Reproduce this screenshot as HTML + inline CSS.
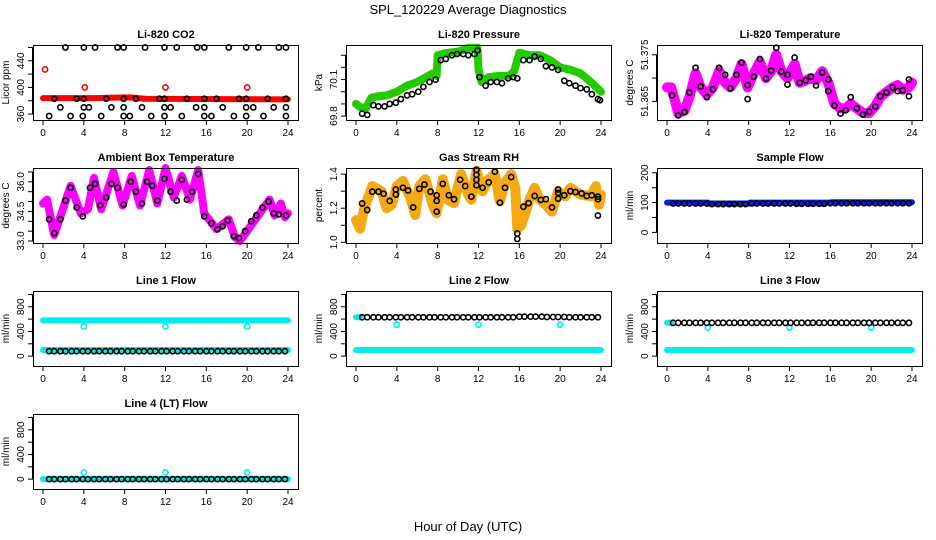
<!DOCTYPE html>
<html><head><meta charset="utf-8"><style>
html,body{margin:0;padding:0;background:#fff}
svg{display:block;font-family:"Liberation Sans",sans-serif}
</style></head><body>
<svg id="c" width="936" height="540" viewBox="0 0 936 540" xmlns="http://www.w3.org/2000/svg">
<rect width="936" height="540" fill="#fff"/>
<text x="468" y="14" text-anchor="middle" font-size="13">SPL_120229  Average Diagnostics</text>
<text x="468" y="531" text-anchor="middle" font-size="13">Hour of Day (UTC)</text>
</svg>
<script>
// ---- data ----
const xTicks = [0,4,8,12,16,20,24];
const denseH = [0.6,1.1,1.7,2.2,2.8,3.3,3.9,4.4,5.0,5.5,6.1,6.6,7.2,7.7,8.3,8.8,9.4,9.9,10.5,11.0,11.6,12.1,12.7,13.2,13.8,14.3,14.9,15.4,16.0,16.5,17.1,17.6,18.2,18.7,19.3,19.8,20.4,20.9,21.5,22.0,22.6,23.1,23.7];
const outlierH = [4,12,20];

// CO2
const co2BandH = [0,5,8.5,10,24];
const co2BandV = [384,384,385,383,382];
const co2RedH = [0.2,4.1,12,20];
const co2RedV = [427,400,400,400];
const co2TopH = [2.2,4,5.1,7.3,7.9,10,11.9,13.1,15.1,15.8,18.2,19.9,21.1,23.1,23.8];
const co2TopV = [460,460,460,460,460,460,460,460,460,460,460,460,460,460,460];
const co2MidH = [1.1,3.3,4,6.2,7.9,9.1,11.4,11.9,14.1,15.8,17,19.2,19.9,22,23.8];
const co2MidV = [383,383,383,383,383,383,383,383,383,383,383,383,383,383,383];
const co2LowH = [1.7,4,4.5,6.7,7.9,9.7,11.9,12.5,15,15.8,17.6,19.9,20.6,22.6,23.8];
const co2LowV = [370,370,370,370,370,370,370,370,370,370,370,370,370,370,370];
const co2BotH = [0.6,2.7,3.9,5.7,7.9,8.5,10.6,11.9,13.6,15.8,16.5,18.7,19.9,21.6,23.8];
const co2BotV = [357,357,357,357,357,357,357,357,357,357,357,357,357,357,357];

// Pressure
const presBandH = [0,0.5,1,1.5,2,3,4,5,6,7.5,7.9,8,9,10,11,11.9,12,12.3,13,14,15,15.5,16,17,18,19,20,21,22,23,24];
const presBandV = [69.9,69.87,69.87,69.95,69.96,69.97,70.0,70.05,70.08,70.15,70.13,70.3,70.32,70.33,70.36,70.36,70.18,70.08,70.12,70.13,70.13,70.17,70.32,70.3,70.3,70.26,70.2,70.18,70.15,70.08,70.0];
const presPtH = [0.6,1.1,1.7,2.2,2.8,3.3,3.9,4.4,5.0,5.5,6.1,6.6,7.2,7.8,8.3,8.8,9.4,9.9,10.5,11.0,11.6,11.9,12.1,12.7,13.2,13.8,14.3,14.9,15.4,15.8,16.4,17.0,17.5,18.1,18.6,19.2,19.8,20.4,20.9,21.5,22.0,22.6,23.1,23.7,23.9];
const presPtV = [69.82,69.81,69.89,69.88,69.88,69.9,69.91,69.94,69.97,69.98,70.0,70.04,70.08,70.1,70.26,70.27,70.3,70.31,70.31,70.3,70.31,70.34,70.12,70.05,70.08,70.08,70.07,70.11,70.12,70.11,70.26,70.26,70.29,70.27,70.21,70.2,70.18,70.09,70.07,70.05,70.03,70.02,69.98,69.94,69.93];

// Li-820 temperature
const tempBandH = [0,0.4,0.8,1.1,1.7,2.2,2.8,3.3,3.9,4.5,5.1,5.7,6.2,6.8,7.3,7.9,8.5,9.1,9.7,10.2,10.7,11.2,11.8,12.5,13.0,13.6,14.1,14.6,15.2,15.8,16.4,17.0,17.5,18.0,18.6,19.2,19.8,20.4,20.9,21.5,22.1,22.6,23.1,23.7,24];
const tempBandV = [51.368,51.368,51.365,51.3625,51.363,51.366,51.371,51.368,51.3665,51.368,51.3715,51.369,51.368,51.370,51.373,51.368,51.371,51.3735,51.370,51.3715,51.375,51.3715,51.370,51.373,51.369,51.3695,51.370,51.3695,51.3715,51.369,51.3645,51.3635,51.3635,51.3645,51.3635,51.3625,51.3625,51.364,51.366,51.367,51.368,51.3685,51.3675,51.368,51.369];
const tempPtH = [0.5,1.1,1.7,2.2,2.8,3.3,3.9,4.5,5.1,5.7,6.2,6.8,7.3,7.9,7.9,8.5,9.1,9.7,10.2,10.7,11.2,11.8,11.8,12.5,13.0,13.6,14.1,14.6,15.2,15.8,15.8,16.4,17.0,17.5,18.0,18.6,19.2,19.8,20.4,20.9,21.5,22.1,22.6,23.1,23.7,23.7];
const tempPtV = [51.3663,51.362,51.3627,51.3669,51.3722,51.3682,51.3659,51.3676,51.3722,51.3707,51.3678,51.3707,51.3733,51.3685,51.3655,51.3703,51.3741,51.3699,51.3716,51.3765,51.3714,51.3707,51.3686,51.3744,51.369,51.3695,51.3703,51.3684,51.3712,51.3697,51.3672,51.3641,51.3624,51.3631,51.3659,51.3635,51.3622,51.3628,51.3639,51.3661,51.3669,51.368,51.3672,51.3674,51.3697,51.3661];

// Ambient box temperature
const ambBandH = [0,0.4,1.1,2.7,3.7,4.4,5,5.7,6.9,7.8,8.7,9.5,10.4,11.2,12,12.8,13.6,14.4,15.2,15.5,15.8,17,18.2,18.8,19.3,21.5,22.2,22.7,23.3,23.7,24];
const ambBandV = [34.9,35.1,33.3,35.8,34.4,34.6,36.2,34.6,36.5,34.8,36.3,34.8,36.6,34.9,36.7,35.2,36.3,35.1,36.6,35.5,34.4,33.6,34.1,33.2,33.0,34.6,35.1,34.3,34.9,34.2,34.4];
const ambPtH = [0.6,1.1,1.7,2.2,2.7,3.3,3.9,4.6,5.1,5.6,6.2,6.7,7.3,7.9,8.6,9.1,9.7,10.2,10.7,11.2,11.9,12.5,13.1,13.6,14.1,14.6,15.2,15.8,16.5,17.1,17.6,18.1,18.7,19.2,19.8,20.4,20.9,21.5,22.1,22.6,23.1,23.8];
const ambPtV = [34.1,33.4,34.1,35.05,35.7,34.7,34.25,35.7,35.9,34.8,35.2,35.9,35.7,34.85,36.0,35.5,34.9,36.0,35.8,35.05,36.15,35.5,35.05,36.1,35.1,35.5,36.4,34.25,33.9,33.6,33.75,34.05,33.25,33.15,33.5,34.0,34.3,34.7,35.0,34.4,34.35,34.3];

// Gas stream RH
const rhBandH = [0,0.4,0.8,1.3,1.6,2.5,3,3.5,4,4.6,5.4,5.8,6.2,6.8,7.5,7.9,8.5,9,9.6,10.3,11,11.3,11.8,12.4,13,13.6,14.1,14.6,15.2,15.6,15.8,16.2,17,17.5,18,18.6,19.2,19.8,20.5,21,22,23,23.5,23.8,24];
const rhBandV = [1.13,1.08,1.2,1.28,1.33,1.3,1.2,1.22,1.33,1.36,1.25,1.16,1.33,1.37,1.22,1.17,1.37,1.25,1.23,1.4,1.28,1.25,1.42,1.3,1.37,1.4,1.24,1.35,1.4,1.32,1.08,1.1,1.25,1.32,1.25,1.22,1.18,1.3,1.27,1.32,1.28,1.27,1.33,1.22,1.28];
const rhPtH = [0.6,1.1,1.6,2.2,2.7,3.3,3.9,3.9,4.6,5.1,5.6,6.2,6.7,7.3,7.9,7.9,7.9,8.5,9.1,9.6,10.2,10.7,11.3,11.8,11.8,11.8,11.8,12.4,13,13.6,14.1,14.6,15.2,15.8,15.8,16.4,16.9,17.5,18.1,18.6,19.2,19.8,19.8,19.8,20.4,21,21.5,22.1,22.6,23.1,23.7,23.7,23.7];
const rhPtV = [1.228,1.19,1.297,1.297,1.285,1.243,1.31,1.28,1.32,1.304,1.205,1.314,1.339,1.297,1.243,1.18,1.276,1.343,1.276,1.253,1.367,1.33,1.268,1.425,1.396,1.367,1.335,1.32,1.352,1.415,1.233,1.32,1.383,1.052,1.02,1.209,1.23,1.272,1.249,1.253,1.205,1.31,1.29,1.256,1.276,1.3,1.295,1.287,1.272,1.276,1.157,1.253,1.268];

// Sample flow
const sfBandH = [0,4,4.1,8,8.1,16,16.1,24];
const sfBandV = [100,100,97,97,100,100,101,101];
const sfPtV = [97,97,97,97,97,97,97,95,95,95,95,95,95,95,97,97,97,97,97,97,97,97,96,96,96,96,96,96,98,98,98,98,98,98,98,98,98,98,98,98,98,98,98];

// Line flows
const l1HiBandH = [0,24];  const l1HiBandV = [580,580];
const l1LoBandH = [0,24];  const l1LoBandV = [100,100];
const l1OutV = [480,480,480];
const l1PtV = [80,80,80,80,80,80,80,80,80,80,80,80,80,80,80,80,80,80,80,80,80,80,80,80,80,80,80,80,80,80,80,80,80,80,80,80,80,80,80,80,80,80,80];

const l2HiBandH = [0,0.4];  const l2HiBandV = [630,630];
const l2LoBandH = [0,24];   const l2LoBandV = [100,100];
const l2OutV = [510,510,510];
const l2PtV = [630,630,630,630,630,630,630,630,630,630,630,630,630,630,630,630,630,630,630,630,630,630,630,630,630,630,630,630,640,640,640,640,640,635,635,635,635,630,630,630,630,630,630];

const l3HiBandH = [0,0.4];  const l3HiBandV = [540,540];
const l3LoBandH = [0,24];   const l3LoBandV = [100,100];
const l3OutV = [460,460,460];
const l3PtV = [540,540,540,540,540,540,540,540,540,540,540,540,540,540,540,540,540,540,540,540,540,540,540,540,540,540,540,540,540,540,540,540,540,540,540,540,540,540,540,540,540,540,540];

const l4LoBandH = [0,24];  const l4LoBandV = [0,0];
const l4OutV = [110,110,110];
const l4PtV = [0,0,0,0,0,0,0,0,0,0,0,0,0,0,0,0,0,0,0,0,0,0,0,0,0,0,0,0,0,0,0,0,0,0,0,0,0,0,0,0,0,0,0];

// ---- drawing ----
const svg = document.getElementById('c');
const NS = 'http://www.w3.org/2000/svg';
const colL = [33,346,657], rowT = [45,168,291,414], PW = 266, PH = 75;
function mk(tag, attrs, parent){ const e=document.createElementNS(NS,tag); for(const k in attrs) e.setAttribute(k,attrs[k]); (parent||svg).appendChild(e); return e; }

function panel(name, title, ylab, col, row, ymin, ymax, yTicks, yLabels){
  const g = mk('g',{});
  
  
  const L = colL[col], T = rowT[row], B = T+PH, R = L+PW;
  const sx = h => L+10 + h*(PW-21)/24;
  const sy = v => B - (v-ymin)/(ymax-ymin)*PH;
  const t = mk('text',{x:L+PW/2, y:T-7, 'text-anchor':'middle','font-size':11,'font-weight':'bold'},g);
  t.textContent = title;
  
  
  const plot = mk('g',{},g);
  
  
  const xa = mk('g',{stroke:'#000','stroke-width':1},g);
  
  
  mk('line',{x1:sx(0),x2:sx(24),y1:B+0.5,y2:B+0.5},xa);
  xTicks.forEach(h=>{
    mk('line',{x1:sx(h),x2:sx(h),y1:B,y2:B+5},xa);
    const tl = mk('text',{x:sx(h),y:B+16,'text-anchor':'middle','font-size':10,stroke:'none'},xa);
    tl.textContent = h;
  });
  const ya = mk('g',{stroke:'#000','stroke-width':1},g);
  
  
  mk('line',{x1:L-0.5,x2:L-0.5,y1:sy(yTicks[0]),y2:sy(yTicks[yTicks.length-1])},ya);
  yTicks.forEach(v=>{ mk('line',{x1:L-5,x2:L,y1:sy(v),y2:sy(v)},ya); });
  yLabels.forEach(v=>{
    const yl = mk('text',{transform:`translate(${L-9},${sy(v)}) rotate(-90)`,'text-anchor':'middle','font-size':10,stroke:'none'},ya);
    yl.textContent = v;
  });
  const yt = mk('text',{transform:`translate(${L-24},${T+PH/2}) rotate(-90)`,'text-anchor':'middle','font-size':10},g);
  yt.textContent = ylab;
  
  
  mk('rect',{x:L+0.5,y:T+0.5,width:PW-1,height:PH,fill:'none',stroke:'#000','stroke-width':1},g);
  return {sx, sy, plot};
}
function band(p, hs, vs, color, w, name){
  const d = hs.map((h,i)=>(i?'L':'M')+p.sx(h).toFixed(1)+','+p.sy(vs[i]).toFixed(1)).join('');
  const e = mk('path',{d, fill:'none', stroke:color, 'stroke-width':w, 'stroke-linejoin':'round','stroke-linecap':'round'}, p.plot);
  
  
}
function pts(p, hs, vs, color, name, r){
  const g = mk('g',{fill:'none',stroke:color,'stroke-width':1.6}, p.plot);
  
  
  hs.forEach((h,i)=>{ mk('circle',{cx:p.sx(h), cy:p.sy(vs[i]), r:r||2.6}, g); });
}

// CO2
let p = panel('co2-panel','Li-820 CO2','Licor ppm',0,0,351.1,463.7,[360,380,400,420,440,460],[360,400,440]);
band(p, co2BandH, co2BandV, '#ff0000', 6, 'co2-series');
pts(p, co2RedH, co2RedV, '#ff0000', 'co2-outliers');
pts(p, co2TopH, co2TopV, '#000', 'co2-avg-high');
pts(p, co2MidH, co2MidV, '#000', 'co2-avg-mid');
pts(p, co2LowH, co2LowV, '#000', 'co2-avg-low');
pts(p, co2BotH, co2BotV, '#000', 'co2-avg-bottom');

// Pressure
p = panel('pressure-panel','Li-820 Pressure','kPa',1,0,69.768,70.384,[69.8,69.9,70.0,70.1,70.2,70.3],[69.8,70.1]);
band(p, presBandH, presBandV, '#22cc00', 8, 'pressure-series');
pts(p, presPtH, presPtV, '#000', 'pressure-averages');

// Temperature
p = panel('li820-temperature-panel','Li-820 Temperature','degrees C',2,0,51.361,51.3771,[51.365,51.370,51.375],[51.365,51.375]);
band(p, tempBandH, tempBandV, '#ff00ff', 10, 'li820-temperature-series');
pts(p, tempPtH, tempPtV, '#000', 'li820-temperature-averages');

// Ambient
p = panel('ambient-temperature-panel','Ambient Box Temperature','degrees C',0,1,32.9,36.7,[33,33.5,34,34.5,35,35.5,36,36.5],['33.0','34.5','36.0']);
band(p, ambBandH, ambBandV, '#ff00ff', 8, 'ambient-temperature-series');
pts(p, ambPtH, ambPtV, '#000', 'ambient-temperature-averages');

// RH
p = panel('gas-rh-panel','Gas Stream RH','percent',1,1,0.996,1.436,[1.0,1.1,1.2,1.3,1.4],['1.0','1.2','1.4']);
band(p, rhBandH, rhBandV, '#f4a812', 10, 'gas-rh-series');
pts(p, rhPtH, rhPtV, '#000', 'gas-rh-averages');

// Sample flow
p = panel('sample-flow-panel','Sample Flow','ml/min',2,1,-35.5,216,[0,50,100,150,200],[0,100,200]);
band(p, sfBandH, sfBandV, '#0022ee', 6, 'sample-flow-series');
pts(p, denseH, sfPtV, '#000', 'sample-flow-averages');

const flowTicks = [0,200,400,600,800,1000], flowLabels = [0,400,800];
// Line 1
p = panel('line1-flow-panel','Line 1 Flow','ml/min',0,2,-160,1056,flowTicks,flowLabels);
band(p, l1HiBandH, l1HiBandV, '#00eeee', 6, 'line1-high-series');
band(p, l1LoBandH, l1LoBandV, '#00eeee', 6, 'line1-low-series');
pts(p, outlierH, l1OutV, '#00eeee', 'line1-outliers');
pts(p, denseH, l1PtV, '#000', 'line1-averages');

// Line 2
p = panel('line2-flow-panel','Line 2 Flow','ml/min',1,2,-160,1056,flowTicks,flowLabels);
band(p, l2LoBandH, l2LoBandV, '#00eeee', 6, 'line2-low-series');
band(p, l2HiBandH, l2HiBandV, '#00eeee', 6, 'line2-high-series');
pts(p, outlierH, l2OutV, '#00eeee', 'line2-outliers');
pts(p, denseH, l2PtV, '#000', 'line2-averages');

// Line 3
p = panel('line3-flow-panel','Line 3 Flow','ml/min',2,2,-160,1056,flowTicks,flowLabels);
band(p, l3LoBandH, l3LoBandV, '#00eeee', 6, 'line3-low-series');
band(p, l3HiBandH, l3HiBandV, '#00eeee', 6, 'line3-high-series');
pts(p, outlierH, l3OutV, '#00eeee', 'line3-outliers');
pts(p, denseH, l3PtV, '#000', 'line3-averages');

// Line 4
p = panel('line4-flow-panel','Line 4 (LT) Flow','ml/min',0,3,-160,1056,flowTicks,flowLabels);
band(p, l4LoBandH, l4LoBandV, '#00eeee', 6, 'line4-series');
pts(p, outlierH, l4OutV, '#00eeee', 'line4-outliers');
pts(p, denseH, l4PtV, '#000', 'line4-averages');
</script>
</body></html>
